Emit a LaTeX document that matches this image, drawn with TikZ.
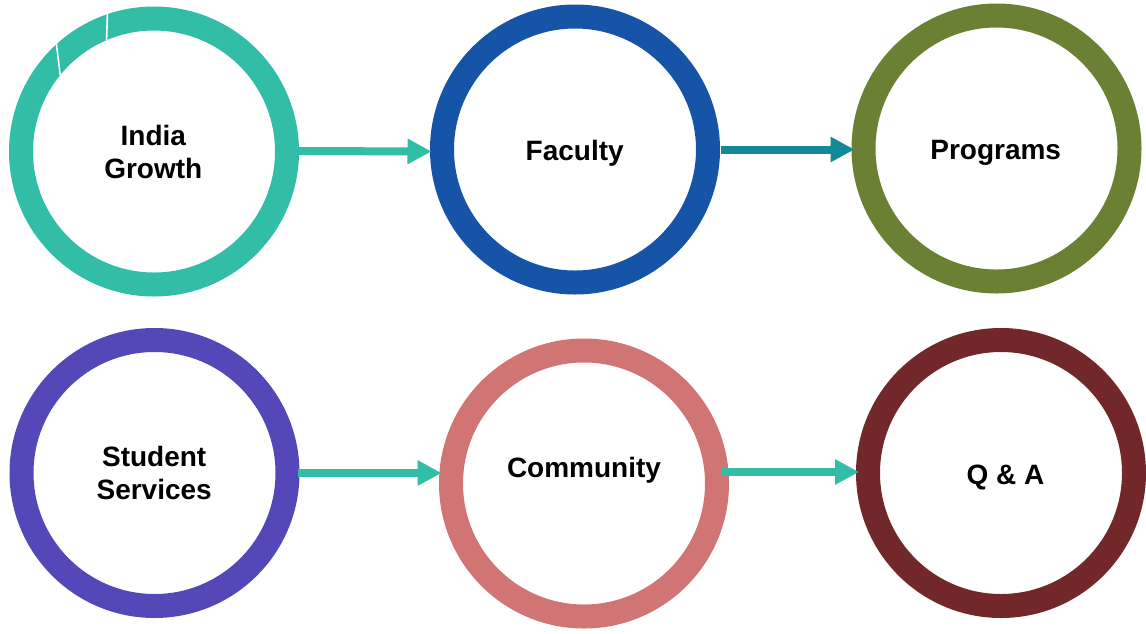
\documentclass[tikz,border=0pt]{standalone}
\usepackage{fontspec}
\setmainfont{Liberation Sans}
\usetikzlibrary{arrows.meta}
\definecolor{cTeal}{HTML}{32BDA6}
\definecolor{cBlue}{HTML}{1554A7}
\definecolor{cOlive}{HTML}{6A8033}
\definecolor{cPurple}{HTML}{5447B8}
\definecolor{cPink}{HTML}{D07474}
\definecolor{cMaroon}{HTML}{72282A}
\definecolor{cDarkTeal}{HTML}{138896}
\begin{document}
\begin{tikzpicture}[x=1pt,y=-1pt,
  ring/.style={circle,minimum size=266pt,line width=24pt,inner sep=0pt,draw=#1},
  lbl/.style={font=\fontsize{28}{33}\selectfont\bfseries,align=center,inner sep=0pt},
  arr/.style={line width=8pt,draw=#1,-{Triangle[length=24pt,width=24pt]}}]
\fill[white] (0,0) rectangle (1146,633);
\useasboundingbox (0,0) rectangle (1146,633);
% rings
\node[ring=cTeal]   (ig) at (154,151.5) {};
\node[ring=cBlue]   (fa) at (575,149.5) {};
\node[ring=cOlive]  (pr) at (996.5,148.5) {};
\node[ring=cPurple] (ss) at (154.5,473) {};
\node[ring=cPink]   (cm) at (584,483.5) {};
\node[ring=cMaroon] (qa) at (1001,473) {};
% white separators on first ring
\draw[white,line width=1.6pt] (107.6,8) -- (106.6,40);
\draw[white,line width=1.6pt] (56.2,42) -- (60.2,75);
% labels
\node[lbl] (igt) at (153.3,152.3) {India\\Growth};
\node[lbl,anchor=base] (fat) at (574.7,160.7) {Faculty};
\node[lbl,anchor=base] (prt) at (995.7,159.3) {Programs};
\node[lbl] (sst) at (154.2,473.3) {Student\\Services};
\node[lbl,anchor=base] (cmt) at (584,477.7) {Community};
\node[lbl,anchor=base] (qat) at (1005.5,484.3) {Q \& A};
% arrows
\draw[arr=cTeal] ([yshift=0.5pt]ig.east) -- ([xshift=1.5pt]ig.east -| fa.west);
\draw[arr=cDarkTeal] ([xshift=0.5pt]fa.east) -- ([xshift=3pt]fa.east -| pr.west);
\draw[arr=cTeal] ([xshift=-2pt]ss.east) -- ([xshift=2.5pt]ss.east -| cm.west);
\draw[arr=cTeal] ([xshift=-8.5pt,yshift=1pt]cm.east |- qa.west) -- ([xshift=3pt,yshift=1pt]qa.west);
\end{tikzpicture}
\end{document}
